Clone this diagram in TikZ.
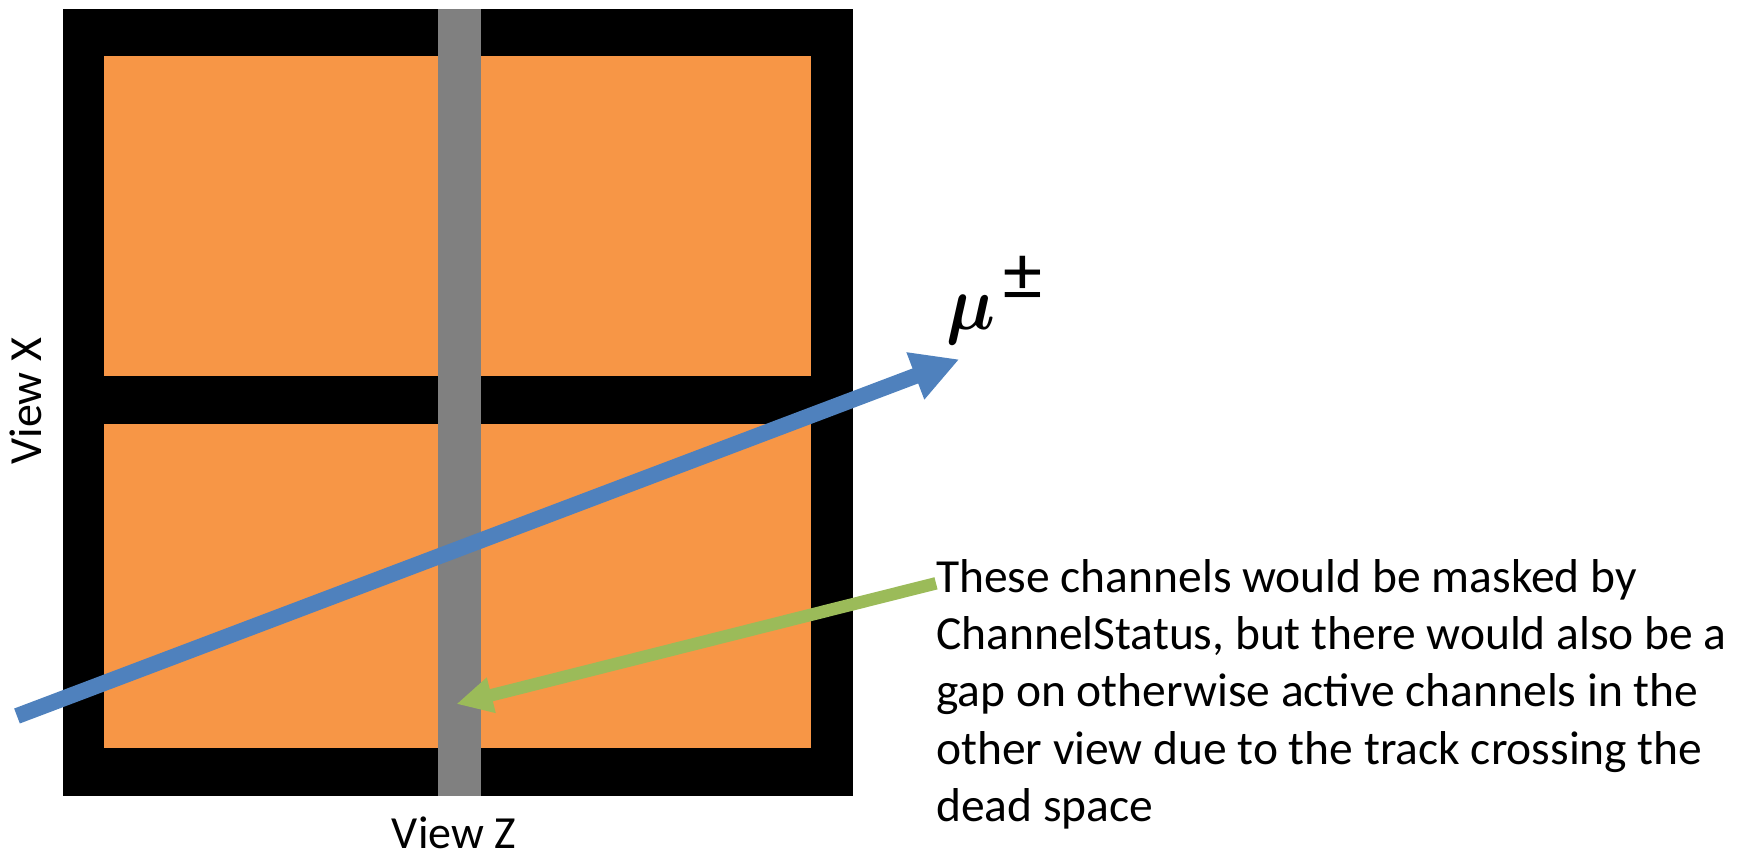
\documentclass[tikz,border=0pt]{standalone}
\usepackage{fontspec}
\setmainfont{Carlito}
\usepackage{amsmath,bm,graphicx}
\usetikzlibrary{arrows.meta}
\definecolor{padorange}{HTML}{F79646}
\definecolor{trackblue}{HTML}{4F81BD}
\definecolor{ptrgreen}{HTML}{9BBB59}
\definecolor{deadgray}{HTML}{808080}
\begin{document}
\begin{tikzpicture}[x=1pt,y=-1pt,
  labeltext/.style={inner sep=0pt, font=\fontsize{46}{55}\selectfont},
  notetext/.style={inner sep=0pt, align=left, font=\fontsize{47.5}{57.3}\selectfont},
  trackarrow/.style={draw=trackblue, line width=16pt, -{Triangle[length=47pt,width=47pt]}},
  pointerarrow/.style={draw=ptrgreen, line width=12.5pt, -{Triangle[length=36pt,width=34pt]}}]
\useasboundingbox (0,0) rectangle (1755,857);
% detector frame
\fill[black] (63,8.5) rectangle (852.5,796);
\fill[padorange] (104,55.5) rectangle (811,376);
\fill[padorange] (104,424) rectangle (811,748);
\fill[deadgray] (437.5,8.5) rectangle (481,796);
% labels
\node[labeltext, rotate=90, anchor=base] (viewx) at (41.7,401.3) {View X};
\node[labeltext, anchor=base] (viewz) at (454,848.5) {View Z};
\node[inner sep=0pt, anchor=base west] (mu) at (946,329)
  {\scalebox{6.9}[7.7]{$\bm{\mu}$}\hspace{8pt}\raisebox{29pt}{\fontsize{78}{80}\selectfont ±}};
\node[notetext, anchor=north west] (note) at (936,559) {These channels would be masked by\\ChannelStatus, but there would also be a\\gap on otherwise active channels in the\\other view due to the track crossing the\\dead space};
% arrows
\coordinate (trackstart) at (17,716);
\coordinate (tracktip) at (959.3,359.3);
\coordinate (ptrstart) at (936,583.3);
\coordinate (ptrtip) at (456.4,704);
\draw[trackarrow] (trackstart) -- (tracktip);
\draw[pointerarrow] (ptrstart) -- (ptrtip);
\end{tikzpicture}
\end{document}
